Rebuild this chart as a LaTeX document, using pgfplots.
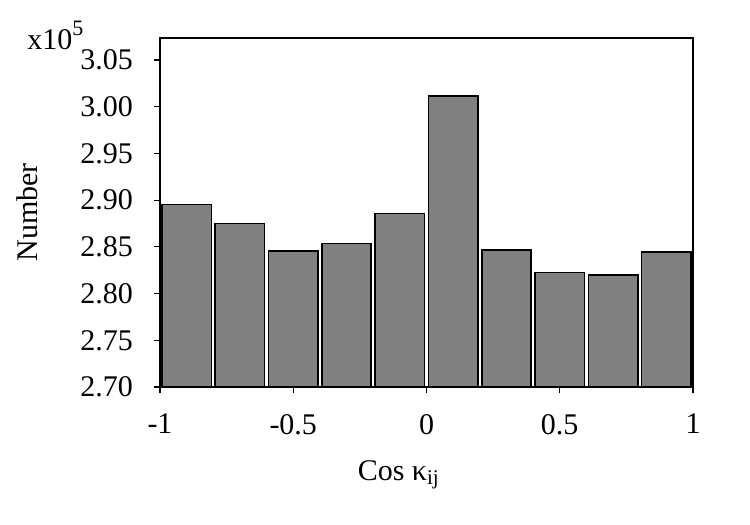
\documentclass[border=0pt]{standalone}
\usepackage{pgfplots}
\pgfplotsset{compat=1.18}
\usepackage{fontspec}
\setmainfont{Liberation Serif}
\definecolor{barg}{RGB}{128,128,128}
\begin{document}
\begin{tikzpicture}
\begin{axis}[
  scale only axis,
  width=266.5pt, height=174.5pt,
  xmin=-1, xmax=1, ymin=2.70, ymax=3.0736,
  axis line style={line width=0.8pt},
  xtick={-1,-0.5,0,0.5,1},
  xticklabels={-1,-0.5,0,0.5,1},
  ytick={2.70,2.75,2.80,2.85,2.90,2.95,3.00,3.05},
  yticklabels={2.70,2.75,2.80,2.85,2.90,2.95,3.00,3.05},
  tick align=outside,
  xtick pos=bottom, ytick pos=left,
  major tick length=3pt,
  tick style={black, line width=0.6pt},
  ticklabel style={font=\fontsize{15}{18}\selectfont},
  yticklabel style={xshift=-7pt},
  xticklabel style={yshift=-7pt},
  label style={font=\fontsize{15}{18}\selectfont},
  ylabel={Number},
  ylabel style={at={(axis description cs:-0.25,0.5)}, anchor=center},
  xlabel={Cos κ\textsubscript{ij}},
  xlabel style={at={(axis description cs:0.448,0)}, anchor=base, yshift=-46.5pt},
  ybar, bar width=0.185, bar shift=0pt,
]
\addplot[fill=barg, draw=black, line width=0.8pt] coordinates {
(-0.9,2.8954) (-0.7,2.875) (-0.5,2.8454) (-0.3,2.8536) (-0.1,2.8857)
(0.1,3.0115) (0.3,2.8465) (0.5,2.8226) (0.7,2.820) (0.9,2.8447)
};
\end{axis}
\node[anchor=base west, font=\fontsize{15}{18}\selectfont, inner sep=0pt] at (-66.5pt,168.5pt) {x10\raisebox{7pt}{\fontsize{11}{13}\selectfont 5}};
\path (-80pt,-69pt) rectangle (295pt,193.5pt);
\end{tikzpicture}
\end{document}
